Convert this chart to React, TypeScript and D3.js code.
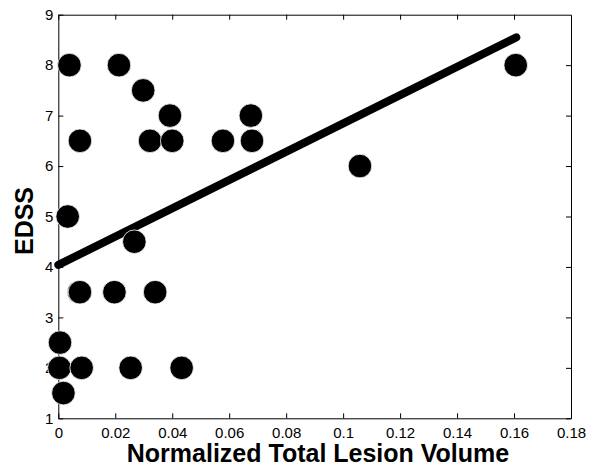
import { useEffect, useRef } from 'react';
import { axisBottom, axisLeft, axisRight, axisTop, line, scaleLinear, select } from 'd3';

// normalized total lesion volume per subject
const lesionVolume = [
  0.0039, 0.0213, 0.0298, 0.0392, 0.0076, 0.0322, 0.04, 0.0578, 0.0676, 0.068,
  0.1059, 0.1606, 0.0033, 0.0267, 0.0073, 0.0076, 0.0197, 0.034, 0.0006, 0.0004,
  0.0082, 0.0254, 0.0433, 0.0018,
];
// EDSS score per subject
const edss = [
  8, 8, 7.5, 7, 6.5, 6.5, 6.5, 6.5, 7, 6.5,
  6, 8, 5, 4.5, 3.5, 3.5, 3.5, 3.5, 2.5, 2,
  2, 2, 2, 1.5,
];
// least squares fit, drawn between these two ends
const fitX = [0, 0.1608];
const fitY = [4.04, 8.55];

const xTicks = [0, 0.02, 0.04, 0.06, 0.08, 0.1, 0.12, 0.14, 0.16, 0.18];
const yTicks = [1, 2, 3, 4, 5, 6, 7, 8, 9];

const W = 589;
const H = 465;
const margin = { top: 14.7, right: 18, bottom: 46.7, left: 58.3 };

export default function App() {
  const svgRef = useRef<SVGSVGElement>(null);

  useEffect(() => {
    const svg = select(svgRef.current);
    svg.selectAll('*').remove();

    const x = scaleLinear().domain([0, 0.18]).range([margin.left, W - margin.right]);
    const y = scaleLinear().domain([1, 9]).range([H - margin.bottom, margin.top]);

    const font = '"Liberation Sans", Arial, sans-serif';

    // box with inward ticks on all four sides
    const styleAxis = (g: any) => {
      g.attr('font-size', null).attr('font-family', null);
      g.selectAll('path').attr('stroke', '#000').attr('stroke-width', 1);
      g.selectAll('line').attr('stroke', '#000').attr('stroke-width', 1);
      g.selectAll('text')
        .style('font-family', font)
        .style('font-size', '15px')
        .attr('fill', '#000');
    };

    const bottom = svg.append('g')
      .attr('transform', `translate(0,${y(1)})`)
      .call(axisBottom(x).tickValues(xTicks).tickSizeInner(-5).tickSizeOuter(0).tickFormat((d: any) => String(+d)))
      .call(styleAxis);
    bottom.selectAll('text').attr('y', 20).attr('dy', null);

    svg.append('g')
      .attr('transform', `translate(0,${y(9)})`)
      .call(axisTop(x).tickValues(xTicks.slice(0, -1)).tickSizeInner(-5).tickSizeOuter(0).tickFormat(() => ''))
      .call(styleAxis);
    svg.append('g')
      .attr('transform', `translate(${x(0)},0)`)
      .call(axisLeft(y).tickValues(yTicks).tickSizeInner(-5).tickSizeOuter(0).tickPadding(5))
      .call(styleAxis);
    svg.append('g')
      .attr('transform', `translate(${x(0.18)},0)`)
      .call(axisRight(y).tickValues(yTicks.slice(0, -1)).tickSizeInner(-5).tickSizeOuter(0).tickFormat(() => ''))
      .call(styleAxis);

    // fit line
    const fit = fitX.map((v, i) => [v, fitY[i]] as [number, number]);
    svg.append('path')
      .attr('d', line<[number, number]>().x((d) => x(d[0])).y((d) => y(d[1]))(fit))
      .attr('fill', 'none')
      .attr('stroke', '#000')
      .attr('stroke-width', 8)
      .attr('stroke-linecap', 'round');

    // subjects
    svg.selectAll('.dot')
      .data(lesionVolume)
      .join('circle')
      .attr('class', 'dot')
      .attr('cx', (d) => x(d))
      .attr('cy', (d, i) => y(edss[i]))
      .attr('r', 11.8)
      .attr('fill', '#000')
      .attr('stroke', '#fff')
      .attr('stroke-width', 0.8);

    svg.append('text')
      .attr('x', 318)
      .attr('y', 462)
      .attr('text-anchor', 'middle')
      .style('font-family', font)
      .style('font-weight', 'bold')
      .style('font-size', '25px')
      .text('Normalized Total Lesion Volume');

    svg.append('text')
      .attr('transform', `translate(33,221) rotate(-90)`)
      .attr('text-anchor', 'middle')
      .style('font-family', font)
      .style('font-weight', 'bold')
      .style('font-size', '25px')
      .text('EDSS');
  }, []);

  return (
    <div style={{ position: 'fixed', left: 0, top: 0 }}>
      <svg ref={svgRef} width={W} height={H} style={{ display: 'block', background: '#fff' }}></svg>
    </div>
  );
}
